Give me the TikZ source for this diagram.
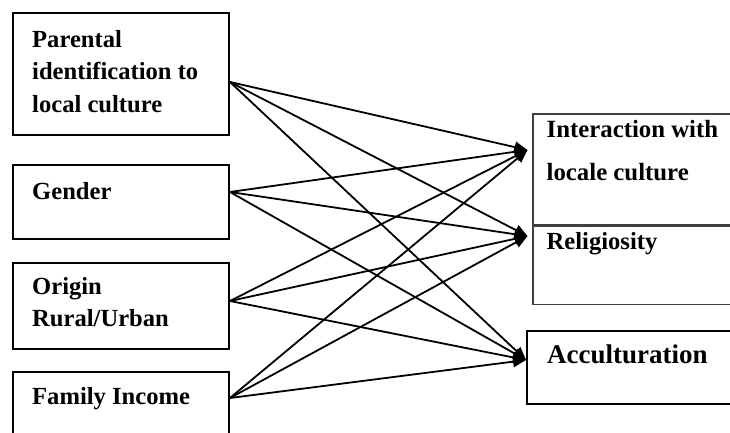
\documentclass[tikz,border=0pt]{standalone}
\usepackage{fontspec}
\setmainfont{Liberation Serif}
\usepackage{tikz}
\usetikzlibrary{arrows.meta,calc,positioning}

\begin{document}
\begin{tikzpicture}[x=1pt,y=1pt,>={Triangle[length=13pt,width=11pt]},
    box/.style={draw,line width=2pt,minimum width=216pt,inner sep=0pt},
    outbox/.style={draw=black!75,line width=1.1pt,minimum width=212pt,inner sep=0pt},
    lbl/.style={anchor=north west,inner sep=0pt,align=left,
      font=\bfseries\fontsize{24.6}{32.5}\selectfont},
    conn/.style={->,line width=1.8pt}]
    \useasboundingbox (0,0) rectangle (730,433);
    % left column
    \node[box,minimum height=122pt] (par) at (121,359) {};
    \node[box,minimum height=74pt,below=28pt of par] (gen) {};
    \node[box,minimum height=86pt,below=22pt of gen] (ori) {};
    \node[box,minimum height=80pt,below=21pt of ori] (inc) {};
    \node[lbl,below right=18pt and 20pt of par.north west] (partxt)
      {Parental\\identification to\\local culture};
    \node[lbl,below right=18pt and 20pt of gen.north west] (gentxt) {Gender};
    \node[lbl,below right=15pt and 20pt of ori.north west] (oritxt)
      {Origin\\Rural/Urban};
    \node[lbl,below right=16pt and 20pt of inc.north west] (inctxt) {Family Income};
    % right column
    \node[outbox,minimum height=111pt] (inter) at (639,263.5) {};
    \node[outbox,minimum height=78pt,below=0pt of inter] (rel) {};
    \node[box,minimum width=218pt,minimum height=73pt] (acc) at (636,65.5) {};
    \node[lbl,font=\bfseries\fontsize{24.8}{43}\selectfont,
      below right=7pt and 14pt of inter.north west] (intertxt)
      {Interaction with\\locale culture};
    \node[lbl,below right=7pt and 14pt of rel.north west] (reltxt) {Religiosity};
    \node[lbl,font=\bfseries\fontsize{27}{32}\selectfont,
      below right=15pt and 21pt of acc.north west] (acctxt) {Acculturation};
    % end points of the paths
    \coordinate (par-out) at ($(par.east)+(0,-8)$);
    \coordinate (gen-out) at ($(gen.east)+(0,10)$);
    \coordinate (ori-out) at ($(ori.east)+(0,5)$);
    \coordinate (inc-out) at ($(inc.east)+(0,14)$);
    \coordinate (inter-in) at ($(inter.west)+(-5,19.5)$);
    \coordinate (rel-in) at ($(rel.west)+(-5,29)$);
    \coordinate (acc-in) at ($(acc.west)+(0,7.5)$);
    \foreach \s in {par,gen,ori,inc}
      \foreach \t in {inter,rel,acc}
        \draw[conn] (\s-out) -- (\t-in);
  \end{tikzpicture}
\end{document}
